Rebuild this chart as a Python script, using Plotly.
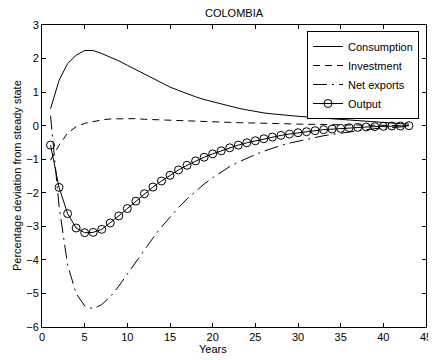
import plotly.graph_objects as go

years = list(range(1, 44))

consumption = [0.50, 1.35, 1.85, 2.10, 2.24, 2.24, 2.15, 2.05, 1.93, 1.80,
               1.67, 1.55, 1.42, 1.28, 1.15, 1.05, 0.95, 0.86, 0.78, 0.71,
               0.64, 0.58, 0.52, 0.47, 0.42, 0.38, 0.35, 0.32, 0.30, 0.28,
               0.26, 0.24, 0.22, 0.20, 0.18, 0.16, 0.14, 0.12, 0.10, 0.09,
               0.07, 0.06, 0.05]

investment = [-1.03, -0.58, -0.22, -0.03, 0.07, 0.13, 0.17, 0.20, 0.21, 0.22,
              0.21, 0.19, 0.18, 0.17, 0.15, 0.14, 0.13, 0.12, 0.12, 0.11,
              0.10, 0.10, 0.09, 0.08, 0.08, 0.07, 0.07, 0.06, 0.05, 0.05,
              0.04, 0.04, 0.03, 0.03, 0.03, 0.02, 0.02, 0.02, 0.01, 0.01,
              0.01, 0.01, 0.00]

net_exports = [0.30, -2.40, -4.15, -5.00, -5.37, -5.46, -5.33, -5.10, -4.78, -4.42,
               -4.05, -3.70, -3.35, -3.02, -2.72, -2.44, -2.18, -1.95, -1.74, -1.55,
               -1.38, -1.22, -1.09, -0.97, -0.86, -0.76, -0.67, -0.59, -0.52, -0.46,
               -0.40, -0.35, -0.30, -0.26, -0.22, -0.18, -0.15, -0.12, -0.09, -0.07,
               -0.05, -0.03, -0.02]

output = [-0.58, -1.84, -2.62, -3.05, -3.19, -3.18, -3.09, -2.90, -2.69, -2.47,
          -2.25, -2.03, -1.83, -1.65, -1.48, -1.32, -1.18, -1.05, -0.94, -0.84,
          -0.75, -0.66, -0.58, -0.51, -0.45, -0.39, -0.34, -0.29, -0.25, -0.21,
          -0.18, -0.15, -0.12, -0.10, -0.08, -0.06, -0.05, -0.04, -0.03, -0.02,
          -0.01, -0.01, 0.00]

x_ticks = [0, 5, 10, 15, 20, 25, 30, 35, 40, 45]
y_ticks = [-6, -5, -4, -3, -2, -1, 0, 1, 2, 3]

FONT = "Arial, Liberation Sans, sans-serif"
# the page body adds an 8px offset, so the figure is 8px smaller
OFF = 8
W, H = 436 - OFF, 360 - OFF
ML, MR, MT, MB = 42 - OFF, 10, 25 - OFF, 33
PW, PH = W - ML - MR, H - MT - MB

fig = go.Figure()
fig.add_trace(go.Scatter(x=years, y=consumption, name="Consumption", mode="lines",
                         line=dict(color="black", width=1)))
fig.add_trace(go.Scatter(x=years, y=investment, name="Investment", mode="lines",
                         line=dict(color="black", width=1, dash="7px,5px")))
fig.add_trace(go.Scatter(x=years, y=net_exports, name="Net exports", mode="lines",
                         line=dict(color="black", width=1, dash="14px,5px,2px,5px")))
fig.add_trace(go.Scatter(x=years, y=output, name="Output", mode="lines+markers",
                         line=dict(color="black", width=1),
                         marker=dict(symbol="circle-open", size=8, color="black",
                                     line=dict(width=1, color="black"))))

axis_common = dict(showgrid=False, zeroline=False, showline=True, linecolor="black",
                   linewidth=1, mirror="ticks", ticks="inside", ticklen=4,
                   tickcolor="black", automargin=False, ticklabeloverflow="allow",
                   tickfont=dict(family=FONT, size=11, color="black"))


def px_x(page_x):
    return (page_x - OFF - ML) / PW


def px_y(page_y):
    return (H - MB - (page_y - OFF)) / PH


fig.update_layout(
    width=W, height=H,
    margin=dict(l=ML, r=MR, t=MT, b=MB, autoexpand=False),
    paper_bgcolor="white", plot_bgcolor="white",
    font=dict(family=FONT, size=11, color="black"),
    xaxis=dict(range=[0, 45], tickvals=x_ticks, **axis_common),
    yaxis=dict(range=[-6, 3], tickvals=y_ticks, **axis_common),
    legend=dict(x=px_x(419), y=px_y(31), xanchor="right", yanchor="top",
                bgcolor="white", bordercolor="black", borderwidth=1,
                font=dict(family=FONT, size=11, color="black"),
                tracegroupgap=0, itemwidth=30),
    showlegend=True,
    annotations=[
        dict(text="COLOMBIA", xref="paper", yref="paper",
             x=0.5, y=px_y(12.5), xanchor="center", yanchor="middle",
             showarrow=False, font=dict(family=FONT, size=11, color="black")),
        dict(text="Years", xref="paper", yref="paper",
             x=px_x(213), y=px_y(349), xanchor="center", yanchor="middle",
             showarrow=False, font=dict(family=FONT, size=11, color="black")),
        dict(text="Percentage deviation from steady state", xref="paper", yref="paper",
             x=px_x(17), y=px_y(176), xanchor="center", yanchor="middle",
             textangle=-90,
             showarrow=False, font=dict(family=FONT, size=11, color="black")),
    ],
)

fig.write_html("out.html")
